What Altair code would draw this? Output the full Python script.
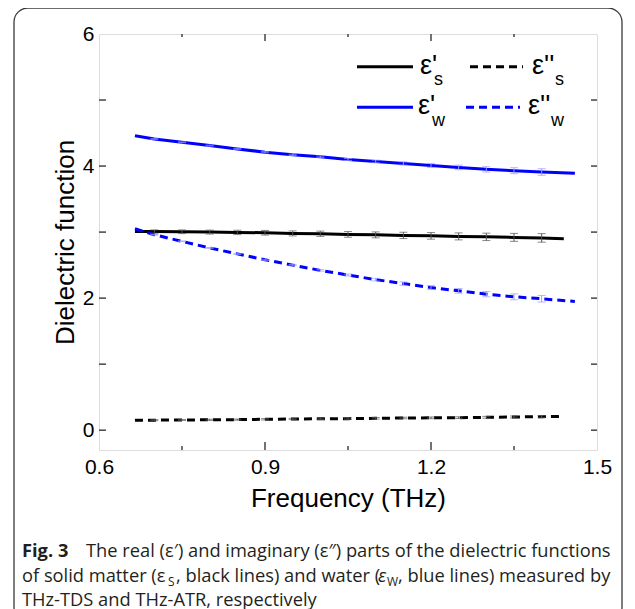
import altair as alt
import pandas as pd

# ---------------- data ----------------
freq_s = [0.665, 0.70, 0.75, 0.80, 0.85, 0.90, 0.95, 1.00, 1.05, 1.10, 1.15, 1.20, 1.25, 1.30, 1.35, 1.40, 1.44]
eps1_s = [3.01, 3.008, 3.005, 3.0, 2.995, 2.99, 2.98, 2.975, 2.965, 2.958, 2.95, 2.943, 2.935, 2.928, 2.92, 2.912, 2.90]
eps2_s = [0.15, 0.152, 0.155, 0.157, 0.16, 0.165, 0.17, 0.172, 0.175, 0.18, 0.185, 0.187, 0.19, 0.195, 0.20, 0.205, 0.21]

freq_w = [0.665, 0.70, 0.75, 0.80, 0.85, 0.90, 0.95, 1.00, 1.05, 1.10, 1.15, 1.20, 1.25, 1.30, 1.35, 1.40, 1.46]
eps1_w = [4.46, 4.41, 4.36, 4.31, 4.26, 4.21, 4.17, 4.14, 4.10, 4.07, 4.04, 4.01, 3.98, 3.95, 3.93, 3.91, 3.89]
eps2_w = [3.05, 2.96, 2.86, 2.76, 2.67, 2.58, 2.50, 2.42, 2.35, 2.28, 2.22, 2.16, 2.11, 2.06, 2.02, 1.99, 1.95]

err_freq = [0.70, 0.75, 0.80, 0.85, 0.90, 0.95, 1.00, 1.05, 1.10, 1.15, 1.20, 1.25, 1.30, 1.35, 1.40]
err1_s = [0.025, 0.028, 0.03, 0.033, 0.035, 0.038, 0.04, 0.043, 0.045, 0.048, 0.05, 0.053, 0.056, 0.06, 0.065]
err2_s = [0.008, 0.008, 0.009, 0.009, 0.01, 0.01, 0.011, 0.011, 0.012, 0.012, 0.013, 0.013, 0.014, 0.015, 0.016]
err1_w = [0.005, 0.006, 0.007, 0.008, 0.009, 0.01, 0.012, 0.015, 0.02, 0.025, 0.03, 0.035, 0.04, 0.045, 0.05]
err2_w = [0.005, 0.006, 0.007, 0.008, 0.009, 0.01, 0.012, 0.015, 0.02, 0.025, 0.03, 0.035, 0.04, 0.045, 0.05]

x_labels = [0.6, 0.9, 1.2, 1.5]
y_labels = [0, 2, 4, 6]
x_major = [0.9, 1.2]
x_minor = [0.75, 1.05, 1.35]
y_ticks = [0, 1, 2, 3, 4, 5]

W, H = 498, 416
XDOM = [0.6, 1.5]
YDOM = [-0.3, 6]
AX_FONT = "Liberation Sans"
CAP_FONT = "Open Sans"

xs = alt.Scale(domain=XDOM, nice=False, zero=False)
ys = alt.Scale(domain=YDOM, nice=False, zero=False)

x_axis = alt.Axis(values=x_labels, format=".1f", title="Frequency (THz)", ticks=False, domain=False,
                  grid=False, labelFont=AX_FONT, labelFontSize=21, labelColor="black", labelPadding=6,
                  titleFont=AX_FONT, titleFontSize=26, titleFontWeight="normal", titleColor="black",
                  titlePadding=8, labelFlush=False)
y_axis = alt.Axis(values=y_labels, format="d", title="Dielectric function", ticks=False, domain=False,
                  grid=False, labelFont=AX_FONT, labelFontSize=21, labelColor="black", labelPadding=5,
                  titleFont=AX_FONT, titleFontSize=26, titleFontWeight="normal", titleColor="black",
                  titlePadding=4, labelFlush=False)


def X(field):
    return alt.X(f"{field}:Q", scale=xs, axis=x_axis)


def Y(field):
    return alt.Y(f"{field}:Q", scale=ys, axis=y_axis)


dummy = pd.DataFrame({"a": [0]})
layers = []

# outer rounded frame of the figure
layers.append(alt.Chart(dummy).mark_rect(fillOpacity=0, stroke="#3a3a3a", strokeWidth=1.3,
                                         cornerRadius=14).encode(
    x=alt.value(-85), x2=alt.value(523), y=alt.value(-26), y2=alt.value(588)))

# lines
df_s = pd.DataFrame({"f": freq_s, "e1": eps1_s, "e2": eps2_s})
df_w = pd.DataFrame({"f": freq_w, "e1": eps1_w, "e2": eps2_w})
layers.append(alt.Chart(df_s).mark_line(color="black", strokeWidth=3).encode(x=X("f"), y=Y("e1")))
layers.append(alt.Chart(df_s).mark_line(color="black", strokeWidth=3, strokeDash=[8, 5]).encode(x=X("f"), y=Y("e2")))
layers.append(alt.Chart(df_w).mark_line(color="#0000ff", strokeWidth=3).encode(x=X("f"), y=Y("e1")))
layers.append(alt.Chart(df_w).mark_line(color="#0000ff", strokeWidth=3, strokeDash=[8, 5]).encode(x=X("f"), y=Y("e2")))


# error bars
def interp_at(fx, fy, q):
    for i in range(len(fx) - 1):
        if fx[i] <= q <= fx[i + 1]:
            t = (q - fx[i]) / (fx[i + 1] - fx[i])
            return fy[i] + t * (fy[i + 1] - fy[i])
    return fy[-1]


for fx, fy, errs, col in [(freq_s, eps1_s, err1_s, "#555555"), (freq_s, eps2_s, err2_s, "#555555"),
                          (freq_w, eps1_w, err1_w, "#9a9aff"), (freq_w, eps2_w, err2_w, "#9a9aff")]:
    centers = [interp_at(fx, fy, q) for q in err_freq]
    edf = pd.DataFrame({"f": err_freq, "lo": [c - e for c, e in zip(centers, errs)],
                        "hi": [c + e for c, e in zip(centers, errs)]})
    layers.append(alt.Chart(edf).mark_rule(color=col, strokeWidth=1).encode(
        x=X("f"), y=Y("lo"), y2="hi:Q"))
    for end in ["lo", "hi"]:
        layers.append(alt.Chart(edf).mark_tick(color=col, orient="horizontal", size=8, thickness=1).encode(
            x=X("f"), y=Y(end)))

# inward ticks on all four sides
dxm = pd.DataFrame({"v": x_major})
dxn = pd.DataFrame({"v": x_minor})
dy = pd.DataFrame({"v": y_ticks})
tick_col = "#444444"
for d, ln in [(dxm, 8), (dxn, 4)]:
    layers.append(alt.Chart(d).mark_rule(color=tick_col, strokeWidth=1.5).encode(
        x=X("v"), y=alt.value(H), y2=alt.value(H - ln)))
    layers.append(alt.Chart(d).mark_rule(color=tick_col, strokeWidth=1.5).encode(
        x=X("v"), y=alt.value(0), y2=alt.value(ln - 1)))
layers.append(alt.Chart(dy).mark_rule(color=tick_col, strokeWidth=1.5).encode(
    y=Y("v"), x=alt.value(0), x2=alt.value(7)))
layers.append(alt.Chart(dy).mark_rule(color=tick_col, strokeWidth=1.5).encode(
    y=Y("v"), x=alt.value(W), x2=alt.value(W - 6)))

# legend (drawn by hand, pixel layout)
legend_lines = [
    (258, 314, 32.7, "black", None),
    (371, 424, 32.7, "black", [8, 5]),
    (258, 314, 73.3, "#0000ff", None),
    (367, 421, 73.3, "#0000ff", [8, 5]),
]
for x1, x2, yy, col, dash in legend_lines:
    kw = dict(color=col, strokeWidth=3)
    if dash:
        kw["strokeDash"] = dash
    layers.append(alt.Chart(dummy).mark_rule(**kw).encode(
        x=alt.value(x1), x2=alt.value(x2), y=alt.value(yy)))

legend_texts = [
    ("ε'", 321, 39.5, 27), ("s", 335, 51, 18),
    ("ε''", 433, 39.5, 27), ("s", 456, 51, 18),
    ("ε'", 319, 80, 27), ("w", 333, 91.6, 18),
    ("ε''", 429, 80, 27), ("w", 452, 91.6, 18),
]
for txt, tx, ty, fs in legend_texts:
    layers.append(alt.Chart(dummy).mark_text(text=txt, font=AX_FONT, fontSize=fs, color="black",
                                             align="left", baseline="alphabetic").encode(
        x=alt.value(tx), y=alt.value(ty)))

# caption
cap_col = "#231f20"
CS = 18.3
caption = [
    ("Fig. 3", -77, 523, CS, "bold", "normal"),
    ("The real (ε′) and imaginary (ε″) parts of the dielectric functions", -13, 523, CS, "normal", "normal"),
    ("of solid matter (ε", -77, 548, CS, "normal", "normal"),
    ("S", 69, 552, 12, "normal", "normal"),
    (", black lines) and water (", 77, 548, CS, "normal", "normal"),
    ("ε", 279, 548, CS, "normal", "italic"),
    ("W", 288, 552, 12, "normal", "normal"),
    (", blue lines) measured by", 299, 548, CS, "normal", "normal"),
    ("THz-TDS and THz-ATR, respectively", -77, 572, CS, "normal", "normal"),
]
for txt, tx, ty, fs, fw, fst in caption:
    layers.append(alt.Chart(dummy).mark_text(text=txt, font=CAP_FONT, fontSize=fs, fontWeight=fw,
                                             fontStyle=fst, color=cap_col, align="left",
                                             baseline="alphabetic").encode(
        x=alt.value(tx), y=alt.value(ty)))

chart = alt.layer(*layers).properties(
    width=W, height=H,
    autosize=alt.AutoSizeParams(type="none"),
    padding={"left": 91, "top": 26, "right": 30, "bottom": 190},
).configure_view(stroke="#444444", strokeWidth=1.5).configure(background="white")

chart.save("out.html", embed_options={"renderer": "svg", "actions": False})
